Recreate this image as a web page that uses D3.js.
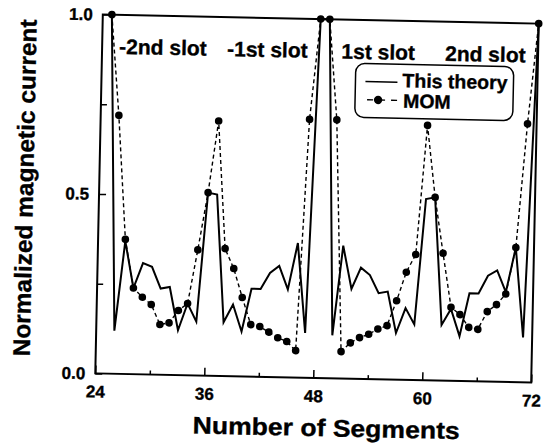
<!DOCTYPE html>
<html lang="en">
<head>
    <meta charset="UTF-8">
    <script src="https://d3js.org/d3.v7.min.js"></script>
    <style>
        body { margin: 0; background: #fff; }
        svg text { font-family: "Liberation Sans", Arial, sans-serif; font-weight: bold; fill: #000; stroke: #000; stroke-width: 0.35px; }
    </style>
    <title>Normalized magnetic current</title>
</head>
<body>

<div id="chart"></div>

<script>
    // segment numbers along the slots
    const segments = [25, 26, 27, 28, 29, 30, 31, 32, 33, 34, 35, 36, 37, 38, 39, 40,
                      41, 42, 43, 44, 45, 46, 47, 48, 49, 50, 51, 52, 53, 54, 55, 56,
                      57, 58, 59, 60, 61, 62, 63, 64, 65, 66, 67, 68, 69, 70, 71, 72];
    // "This theory" (solid line)
    const theory = [1.0, 0.12, 0.37, 0.24, 0.31, 0.30, 0.24, 0.245, 0.125, 0.20, 0.15, 0.51,
                    0.505, 0.15, 0.20, 0.125, 0.245, 0.245, 0.29, 0.31, 0.245, 0.375, 0.125, 1.0,
                    1.0, 0.12, 0.37, 0.25, 0.31, 0.29, 0.24, 0.245, 0.13, 0.20, 0.155, 0.505,
                    0.51, 0.155, 0.20, 0.125, 0.245, 0.245, 0.295, 0.31, 0.25, 0.375, 0.125, 1.0];
    // MOM (dashed line with dots)
    const mom = [1.0, 0.72, 0.375, 0.24, 0.215, 0.195, 0.14, 0.145, 0.18, 0.20, 0.35, 0.51,
                 0.71, 0.355, 0.30, 0.22, 0.145, 0.14, 0.125, 0.11, 0.10, 0.075, 0.72, 1.0,
                 1.0, 0.72, 0.075, 0.10, 0.115, 0.125, 0.14, 0.15, 0.22, 0.30, 0.35, 0.71,
                 0.51, 0.355, 0.205, 0.185, 0.15, 0.145, 0.195, 0.215, 0.245, 0.375, 0.72, 1.0];

    const xMajor = [24, 36, 48, 60, 72];
    const xMinor = [30, 42, 54, 66];
    const yMajor = [0, 0.5, 1.0];
    const yMinor = [0.25, 0.75];

    const slotLabels = ["-2nd slot", "-1st slot", "1st slot", "2nd slot"];
    const slotPos = [30.7, 42.2, 54.4, 66.2];

    const width = 545, height = 443;
    const L = 99, R = 535, T = 19, B = 378;

    const svg = d3.select("#chart").append("svg")
        .attr("width", width)
        .attr("height", height);

    // the scan is a little tilted, so the whole figure is too
    const g = svg.append("g")
        .attr("transform", "rotate(1.2, 317, 198.5)");

    const x = d3.scaleLinear().domain([24, 72]).range([L, R]);
    const y = d3.scaleLinear().domain([0, 1]).range([B, T]);

    // axes with inward ticks
    g.append("g")
        .attr("transform", `translate(0,${B})`)
        .call(d3.axisBottom(x).tickValues(xMajor).tickSizeInner(-8).tickSizeOuter(0).tickPadding(12).tickFormat(d3.format("d")));
    g.append("g")
        .attr("transform", `translate(0,${B})`)
        .call(d3.axisBottom(x).tickValues(xMinor).tickSizeInner(-4).tickSizeOuter(0).tickFormat(""));
    g.append("g")
        .attr("transform", `translate(${L},0)`)
        .call(d3.axisLeft(y).tickValues(yMajor).tickSizeInner(-7).tickSizeOuter(0).tickPadding(10).tickFormat(d3.format(".1f")));
    g.append("g")
        .attr("transform", `translate(${L},0)`)
        .call(d3.axisLeft(y).tickValues(yMinor).tickSizeInner(-6).tickSizeOuter(0).tickFormat(""));

    g.selectAll(".domain").remove();
    g.selectAll(".tick line").attr("stroke", "#000").attr("stroke-width", 1.5);
    g.selectAll(".tick text").style("font-size", "17px");

    // frame
    g.append("rect")
        .attr("x", L).attr("y", T)
        .attr("width", R - L).attr("height", B - T)
        .attr("fill", "none")
        .attr("stroke", "#000")
        .attr("stroke-width", 2);

    const pts = segments.map((s, i) => ({ s, t: theory[i], m: mom[i] }));

    // MOM dashed line
    g.append("path")
        .datum(pts)
        .attr("fill", "none")
        .attr("stroke", "#000")
        .attr("stroke-width", 1.4)
        .attr("stroke-dasharray", "4,3")
        .attr("d", d3.line().x(d => x(d.s)).y(d => y(d.m)));

    // theory solid line
    g.append("path")
        .datum(pts)
        .attr("fill", "none")
        .attr("stroke", "#000")
        .attr("stroke-width", 2)
        .attr("d", d3.line().x(d => x(d.s)).y(d => y(d.t)));

    // MOM dots
    g.selectAll(".dot")
        .data(pts)
        .enter().append("circle")
        .attr("class", "dot")
        .attr("cx", d => x(d.s))
        .attr("cy", d => y(d.m))
        .attr("r", 3.8)
        .attr("fill", "#000");

    // slot labels
    g.selectAll(".slot")
        .data(slotLabels)
        .enter().append("text")
        .attr("class", "slot")
        .attr("x", (d, i) => x(slotPos[i]))
        .attr("y", 58)
        .attr("text-anchor", "middle")
        .style("font-size", "21px")
        .text(d => d);

    // legend
    const leg = g.append("g");
    leg.append("rect")
        .attr("x", 353).attr("y", 62.5)
        .attr("width", 158).attr("height", 54)
        .attr("rx", 9)
        .attr("fill", "#fff")
        .attr("stroke", "#000")
        .attr("stroke-width", 1.5);
    leg.append("line")
        .attr("x1", 363).attr("x2", 395)
        .attr("y1", 80.6).attr("y2", 80.6)
        .attr("stroke", "#000").attr("stroke-width", 1.5);
    leg.append("text")
        .attr("x", 400).attr("y", 85.5)
        .style("font-size", "19.5px")
        .text("This theory");
    leg.append("line")
        .attr("x1", 365).attr("x2", 395)
        .attr("y1", 98.7).attr("y2", 98.7)
        .attr("stroke", "#000").attr("stroke-width", 1.4)
        .attr("stroke-dasharray", "6,6");
    leg.append("circle")
        .attr("cx", 376).attr("cy", 98.7).attr("r", 4.2)
        .attr("fill", "#000");
    leg.append("text")
        .attr("x", 401).attr("y", 106)
        .style("font-size", "19.5px")
        .text("MOM");

    // axis titles
    g.append("text")
        .attr("x", 331).attr("y", 436)
        .attr("text-anchor", "middle")
        .attr("textLength", 267)
        .attr("lengthAdjust", "spacingAndGlyphs")
        .style("font-size", "24px")
        .text("Number of Segments");

    g.append("text")
        .attr("transform", "translate(33,194) rotate(-90)")
        .attr("text-anchor", "middle")
        .attr("textLength", 337)
        .attr("lengthAdjust", "spacingAndGlyphs")
        .style("font-size", "24px")
        .text("Normalized magnetic current");
</script>

</body>
</html>
